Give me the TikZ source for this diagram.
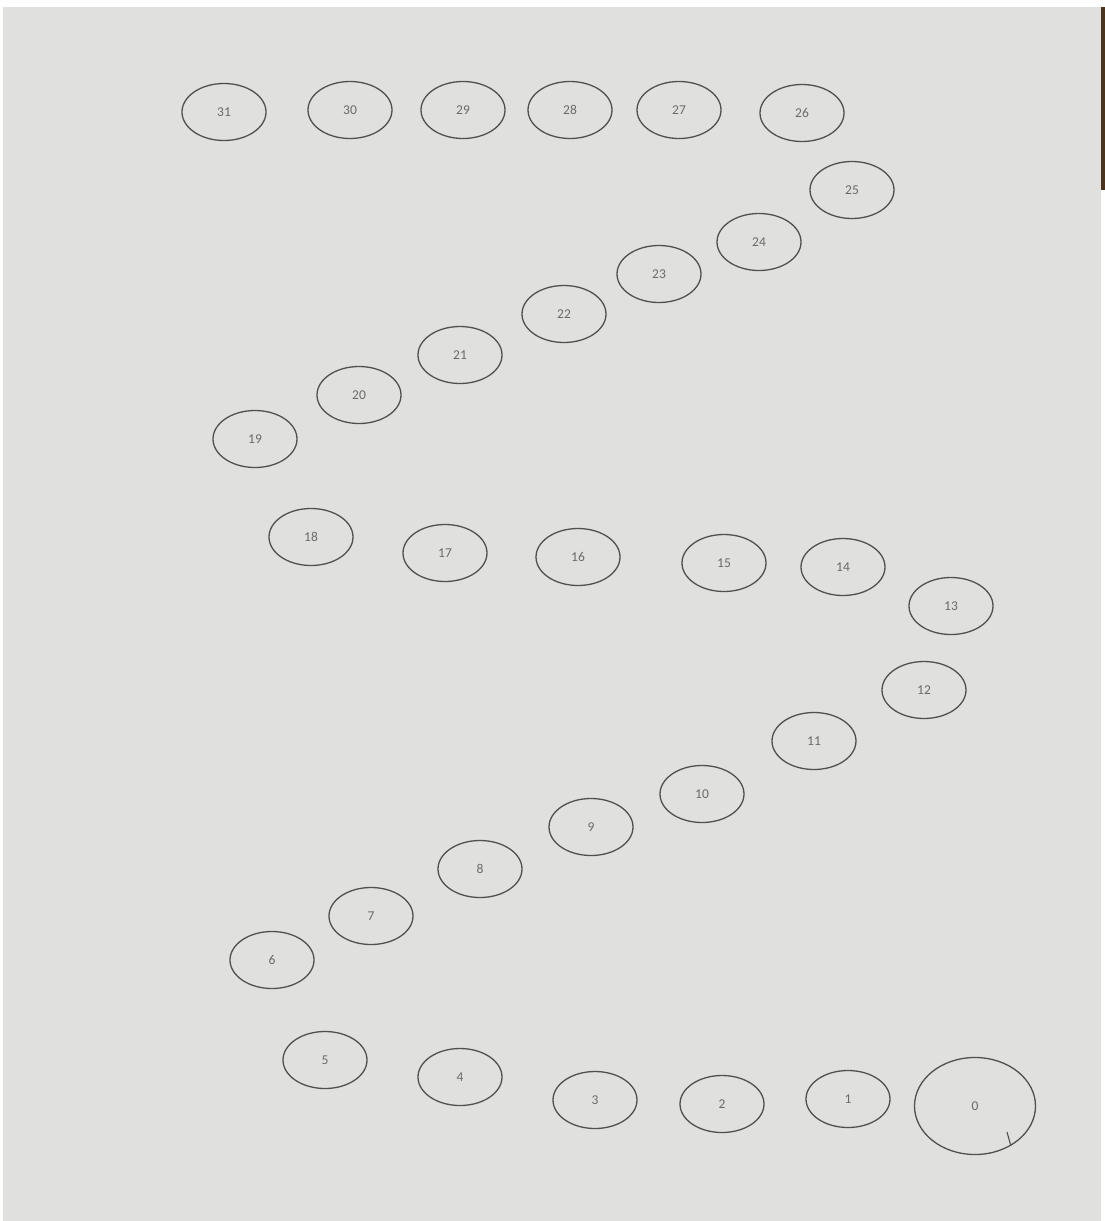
\documentclass[tikz,border=0pt]{standalone}
\usepackage{fontspec}
\setmainfont{Carlito}
\usetikzlibrary{shapes.geometric}
\definecolor{paper}{HTML}{E0E0DE}
\definecolor{ink}{HTML}{505050}
\definecolor{label}{HTML}{6A6A6A}
\tikzset{
  spot/.style={ellipse, draw=ink, line width=1.3pt, minimum width=84pt, minimum height=57pt, inner sep=0pt, text=label, font=\fontsize{13.5}{13.5}\selectfont},
  bigspot/.style={spot, minimum width=121pt, minimum height=97pt}
}
\begin{document}
\begin{tikzpicture}[x=1pt,y=-1pt]
\useasboundingbox (0,0) rectangle (1105,1221);
\fill[white] (0,0) rectangle (1105,1221);
\fill[paper] (3,7) rectangle (1101,1221);
\fill[black!60!brown] (1101,7) rectangle (1105,190);
\node[spot] (n31) at (224,112) {31};
\node[spot] (n30) at (350,110) {30};
\node[spot] (n29) at (463,110) {29};
\node[spot] (n28) at (570,110) {28};
\node[spot] (n27) at (679,110) {27};
\node[spot] (n26) at (802,113) {26};
\node[spot] (n25) at (852,190) {25};
\node[spot] (n24) at (759,242) {24};
\node[spot] (n23) at (659,274) {23};
\node[spot] (n22) at (564,314) {22};
\node[spot] (n21) at (460,355) {21};
\node[spot] (n20) at (359,395) {20};
\node[spot] (n19) at (255,439) {19};
\node[spot] (n18) at (311,537) {18};
\node[spot] (n17) at (445,553) {17};
\node[spot] (n16) at (578,557) {16};
\node[spot] (n15) at (724,563) {15};
\node[spot] (n14) at (843,567) {14};
\node[spot] (n13) at (951,606) {13};
\node[spot] (n12) at (924,690) {12};
\node[spot] (n11) at (814,741) {11};
\node[spot] (n10) at (702,794) {10};
\node[spot] (n9) at (591,827) {9};
\node[spot] (n8) at (480,869) {8};
\node[spot] (n7) at (371,916) {7};
\node[spot] (n6) at (272,960) {6};
\node[spot] (n5) at (325,1060) {5};
\node[spot] (n4) at (460,1077) {4};
\node[spot] (n3) at (595,1100) {3};
\node[spot] (n2) at (722,1104) {2};
\node[spot] (n1) at (848,1099) {1};
\node[bigspot] (n0) at (975,1106) {0};
\coordinate (tick) at (1007,1132);
\draw[ink, line width=1.1pt] (tick) -- (n0.-48);
\end{tikzpicture}
\end{document}
